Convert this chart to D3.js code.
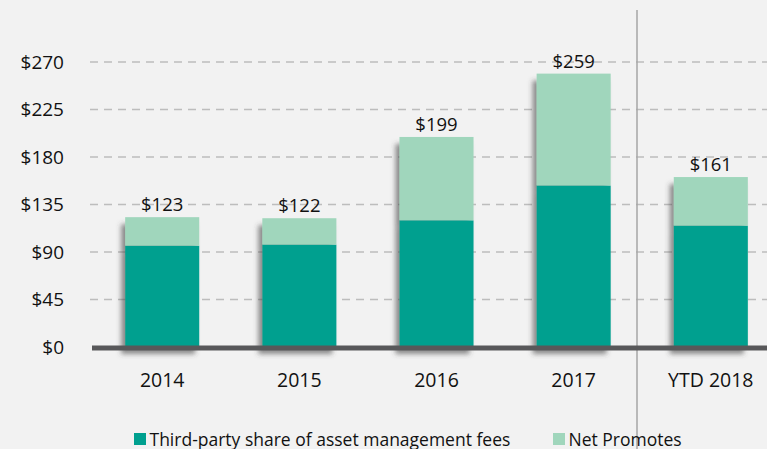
<!DOCTYPE html>
<html>
<head>
<meta charset="utf-8">
<script src="https://cdn.jsdelivr.net/npm/d3@7"></script>
<style>
  html, body { margin: 0; padding: 0; background: #f2f2f2; }
  svg { display: block; font-family: "Open Sans", "Noto Sans", sans-serif; }
</style>
</head>
<body>
<svg id="chart"></svg>
<script>
// data
const categories = ["2014", "2015", "2016", "2017", "YTD 2018"];
const thirdParty = [96, 97, 120, 153, 115];
const netPromotes = [27, 25, 79, 106, 46];
const totals = [123, 122, 199, 259, 161];
const yTicks = [0, 45, 90, 135, 180, 225, 270];
const seriesNames = ["Third-party share of asset management fees", "Net Promotes"];

const colors = { dark: "#00a08f", light: "#a0d6bc" };

function drawChart() {
  const width = 767, height = 449;
  const margin = { top: 62, right: 0, bottom: 102, left: 92 };

  const svg = d3.select('#chart')
    .attr('width', width)
    .attr('height', height);

  svg.append('rect').attr('width', width).attr('height', height).attr('fill', '#f2f2f2');

  const defs = svg.append('defs');
  const filt = defs.append('filter').attr('id', 'shadow')
    .attr('x', '-30%').attr('y', '-10%').attr('width', '160%').attr('height', '130%');
  filt.append('feDropShadow')
    .attr('dx', -4).attr('dy', 7).attr('stdDeviation', 2.5)
    .attr('flood-color', '#444').attr('flood-opacity', 0.6);

  const x = d3.scaleBand()
    .domain(categories)
    .range([95, 778])
    .paddingInner(0.46)
    .paddingOuter(0.22);

  const y = d3.scaleLinear()
    .domain([0, 270])
    .range([height - margin.bottom, margin.top]);

  // gridlines
  svg.append('g')
    .selectAll('line')
    .data(yTicks.filter(d => d > 0))
    .join('line')
    .attr('x1', 90).attr('x2', width)
    .attr('y1', d => y(d)).attr('y2', d => y(d))
    .attr('stroke', '#bdbdbd')
    .attr('stroke-width', 1.5)
    .attr('stroke-dasharray', '8,6');

  // y axis labels
  const yAxis = d3.axisLeft(y).tickValues(yTicks).tickSize(0).tickPadding(0)
    .tickFormat(d => '$' + d);
  const yg = svg.append('g').attr('transform', 'translate(64,0)').call(yAxis);
  yg.select('.domain').remove();
  yg.selectAll('text')
    .attr('font-size', 19)
    .attr('fill', '#111')
    .attr('font-family', '"Open Sans", "Noto Sans", sans-serif');

  // separator
  svg.append('line')
    .attr('x1', 637).attr('x2', 637)
    .attr('y1', 10).attr('y2', height)
    .attr('stroke', '#a6a6a6')
    .attr('stroke-width', 1.5);

  // bars
  const bars = svg.append('g').selectAll('g.bar')
    .data(categories)
    .join('g')
    .attr('class', 'bar')
    .attr('filter', 'url(#shadow)');

  bars.append('rect')
    .attr('x', d => x(d))
    .attr('width', x.bandwidth())
    .attr('y', (d, i) => y(thirdParty[i]))
    .attr('height', (d, i) => y(0) - y(thirdParty[i]))
    .attr('fill', colors.dark);

  bars.append('rect')
    .attr('x', d => x(d))
    .attr('width', x.bandwidth())
    .attr('y', (d, i) => y(thirdParty[i] + netPromotes[i]))
    .attr('height', (d, i) => y(thirdParty[i]) - y(thirdParty[i] + netPromotes[i]))
    .attr('fill', colors.light);

  // value labels
  svg.append('g').selectAll('text')
    .data(categories)
    .join('text')
    .attr('x', d => x(d) + x.bandwidth() / 2)
    .attr('y', (d, i) => y(totals[i]) - 6)
    .attr('text-anchor', 'middle')
    .attr('font-size', 18.5)
    .attr('fill', '#111')
    .text((d, i) => '$' + totals[i]);

  // baseline
  svg.append('line')
    .attr('x1', 92).attr('x2', width)
    .attr('y1', y(0) + 1).attr('y2', y(0) + 1)
    .attr('stroke', '#58585a')
    .attr('stroke-width', 5);

  // category labels
  svg.append('g').selectAll('text')
    .data(categories)
    .join('text')
    .attr('x', d => x(d) + x.bandwidth() / 2)
    .attr('y', 387)
    .attr('text-anchor', 'middle')
    .attr('font-size', 19.5)
    .attr('fill', '#111')
    .text(d => d);

  // legend
  const legendItems = [
    { name: seriesNames[0], color: colors.dark, x: 134 },
    { name: seriesNames[1], color: colors.light, x: 553 }
  ];
  const lg = svg.append('g').selectAll('g')
    .data(legendItems)
    .join('g')
    .attr('transform', d => `translate(${d.x},433)`);
  lg.append('rect').attr('width', 12).attr('height', 12).attr('fill', d => d.color);
  lg.append('text')
    .attr('x', 15.5).attr('y', 12.5)
    .attr('font-size', 17.5)
    .attr('fill', '#111')
    .text(d => d.name);
}

drawChart();
</script>
</body>
</html>
